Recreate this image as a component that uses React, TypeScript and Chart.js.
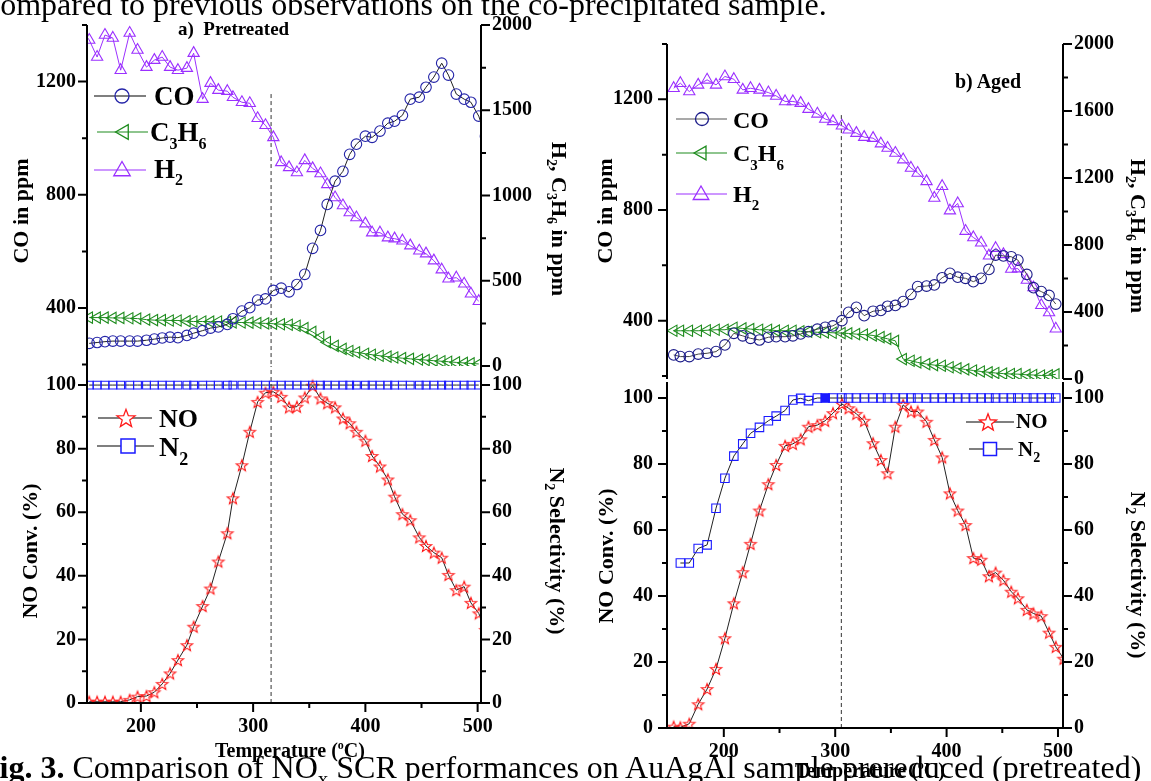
import React, { useEffect, useRef } from 'react';
import { Chart, registerables } from 'chart.js';

Chart.register(...registerables);

const FONT = '"Liberation Serif", "Times New Roman", Times, serif';

// ---------------- a) Pretreated (left panel) ----------------
const tempA = [147, 154, 161, 168, 175, 182, 190, 197, 205, 212, 219, 226, 233, 241, 247, 255, 262, 269, 277, 282, 290, 297, 304, 311, 318, 325, 332, 339, 346, 353, 360, 366, 373, 380, 386, 392, 400, 406, 413, 420, 426, 433, 440, 448, 454, 461, 468, 474, 481, 488, 494, 501, 507];
const coA = [null, 275, 278, 281, 283, 283, 283, 283, 286, 290, 294, 297, 295, 303, 311, 320, 329, 333, 342, 362, 389, 401, 428, 432, 462, 470, 457, 483, 519, 611, 674, 766, 848, 883, 943, 979, 1007, 1003, 1025, 1053, 1060, 1081, 1138, 1145, 1180, 1216, 1265, 1223, 1156, 1138, 1127, 1078, 1007];
const c3h6A = [null, 284, 284, 284, 282, 282, 280, 278, 272, 269, 269, 267, 267, 263, 261, 261, 260, 261, 258, 256, 255, 254, 252, 250, 248, 245, 242, 236, 222, 200, 170, 140, 118, 100, 88, 80, 72, 66, 60, 55, 50, 46, 42, 38, 35, 31, 28, 25, 21, 18, 15, 12, null];
const h2A = [1975, 1912, 1812, 1941, 1924, 1735, 1953, 1853, 1753, 1794, 1812, 1753, 1735, 1747, 1835, 1565, 1659, 1618, 1612, 1576, 1547, 1541, 1453, 1412, 1341, 1194, 1165, 1135, 1206, 1159, 1129, 1065, 988, 941, 900, 871, 835, 782, 782, 753, 747, 735, 706, 676, 659, 618, 565, 512, 518, 482, 424, 380, null];
const noA = [null, 0.4, 0.4, 0.4, 0.4, 0.4, 1, 2, 2.2, 3.4, 6, 9.3, 13.5, 18.2, 24, 30.5, 36, 44.5, 53.4, 64.4, 74.8, 85.3, 94.7, 97.6, 97.9, 96.3, 93, 93.2, 96.1, 99.8, 95.8, 94.3, 93, 89.5, 88, 85.3, 82.5, 77.7, 74.4, 70.3, 64.9, 59.4, 57.5, 52.1, 49.4, 47.3, 45.7, 40.3, 35.5, 36.6, 31.5, 28.2, 23];
const n2A = [null, 100, 100, 100, 100, 100, 100, 100, 100, 100, 100, 100, 100, 100, 100, 100, 100, 100, 100, 100, 100, 100, 100, 100, 100, 100, 100, 100, 100, 100, 100, 100, 100, 100, 100, 100, 100, 100, 100, 100, 100, 100, 100, 100, 100, 100, 100, 100, 100, 100, 100, 100, null];
const dashTempA = 316;
const dashTopA = 1156;

// ---------------- b) Aged (right panel) ----------------
const tempB = [155, 161, 169, 177, 185, 193, 201, 209, 217, 224, 232, 240, 247, 255, 262, 269, 276, 284, 291, 298, 306, 312, 319, 326, 334, 341, 347, 354, 361, 368, 374, 382, 389, 396, 403, 410, 417, 424, 431, 438, 444, 451, 458, 464, 472, 478, 485, 492, 498, 505];
const coB = [276, 270, 270, 279, 282, 288, 312, 354, 345, 336, 330, 340, 342, 342, 345, 352, 360, 369, 376, 381, 400, 430, 448, 418, 434, 437, 452, 455, 469, 495, 523, 525, 529, 555, 571, 557, 553, 541, 553, 585, 637, 634, 631, 619, 567, 519, 505, 491, 460, null];
const c3h6B = [288, 288, 288, 288, 291, 294, 294, 306, 302, 298, 294, 294, 289, 288, 288, 285, 282, 279, 278, 276, 274, 272, 268, 265, 260, 250, 240, 228, 119, 109, 99, 89, 83, 79, 70, 64, 57, 51, 45, 40, 36, 32, 30, 29, 25, 24, 21, 22, 28, null];
const h2B = [1736, 1766, 1716, 1756, 1786, 1756, 1806, 1790, 1726, 1736, 1726, 1710, 1690, 1657, 1657, 1647, 1611, 1583, 1552, 1538, 1512, 1488, 1468, 1444, 1438, 1405, 1379, 1349, 1310, 1260, 1230, 1180, 1081, 1151, 1005, 1048, 883, 845, 813, 736, 781, 744, 657, 659, 591, 546, 440, 397, 300, null];
const noB = [0.4, 0.2, 1.3, 7.2, 11.8, 17.9, 27.2, 37.8, 47.2, 55.8, 65.9, 73.9, 79.7, 85.5, 86.1, 87.5, 91.3, 91.8, 93.1, 95.4, 98.2, 96.9, 95.2, 93.1, 86.3, 81.2, 77.2, 91.3, 97.9, 95.9, 95.9, 92.8, 87.3, 82, 71.1, 65.9, 61.5, 51.5, 51, 46, 47.1, 44.8, 41.3, 39.3, 35.8, 34.7, 33.9, 28.9, 24.6, 21];
const n2B = [null, 50, 50, 54.4, 55.5, 66.6, 75.7, 82.4, 86.1, 89.3, 91.1, 93.1, 94.5, 96.2, 99.4, 99.9, 99.2, 100, 100, 100, 100, 100, 100, 100, 100, 100, 100, 100, 100, 100, 100, 100, 100, 100, 100, 100, 100, 100, 100, 100, 100, 100, 100, 100, 100, 100, 100, 100, 100, null];
const n2FilledIndexB = 18;
const dashTempB = 305.5;
const dashTopB = 1143;

// ---------------- axis ranges & ticks ----------------
const xRangeA = [152, 503];
const xRangeB = [149, 504.5];
const coRangeA = [195, 1400];
const coRangeB = [189, 1400];
const gasRange = [0, 2000];
const convRangeA = [0, 106];
const convRangeB = [0, 104.85];

const tempMajor = [200, 300, 400, 500];
const tempMinor = [250, 350, 450];
const coMajor = [400, 800, 1200];
const coMinor = [200, 600, 1000, 1400];
const gasMajorA = [0, 500, 1000, 1500, 2000];
const gasMinorA = [250, 750, 1250, 1750];
const gasMajorB = [0, 400, 800, 1200, 1600, 2000];
const gasMinorB = [200, 600, 1000, 1400, 1800];
const pctMajor = [0, 20, 40, 60, 80, 100];
const pctMinor = [10, 30, 50, 70, 90];

// ---------------- colours ----------------
const CO_A = '#2424a8';
const CO_B = '#1c1c8a';
const GREEN = '#1e8c1e';
const PURPLE = '#9b30ff';
const RED = '#ff1a1a';
const BLUE = '#1a1aff';

const MAJOR_LEN = 9;
const MINOR_LEN = 5;

type Edge = 'left' | 'right' | 'bottom';
interface AxisSpec {
  id: string;
  edge: Edge;
  min: number;
  max: number;
  size: number;
  major: number[];
  minor: number[];
  pad: number;
}

function scaleFor(a: AxisSpec) {
  return {
    type: 'linear',
    position: a.edge,
    min: a.min,
    max: a.max,
    afterFit: (s: any) => {
      if (a.edge === 'bottom') s.height = a.size;
      else s.width = a.size;
      s.paddingTop = 0;
      s.paddingBottom = 0;
      s.paddingLeft = 0;
      s.paddingRight = 0;
    },
    afterBuildTicks: (s: any) => {
      s.ticks = a.major.map((v) => ({ value: v }));
    },
    ticks: {
      autoSkip: false,
      maxRotation: 0,
      minRotation: 0,
      padding: a.pad,
      color: '#000',
      font: { family: FONT, size: 20, weight: 'bold' },
      callback: (v: any) => String(v),
    },
    grid: { display: false, drawTicks: true, tickLength: MAJOR_LEN },
    border: { display: false },
  };
}

function hiddenX(r: number[]) {
  return { type: 'linear', position: 'bottom', min: r[0], max: r[1], display: false };
}

function decorPlugin(axes: AxisSpec[]) {
  return {
    id: 'decor',
    afterDraw(chart: any) {
      const { ctx, chartArea: a } = chart;
      const hasBottom = axes.some((x) => x.edge === 'bottom');
      ctx.save();
      ctx.strokeStyle = '#000';
      ctx.lineWidth = 2;
      ctx.lineCap = 'butt';
      ctx.beginPath();
      for (const ax of axes) {
        const s = chart.scales[ax.id];
        if (ax.edge === 'bottom') {
          const y = a.bottom;
          ctx.moveTo(a.left - 1, y);
          ctx.lineTo(a.right + 1, y);
          ax.major.forEach((v) => {
            const x = s.getPixelForValue(v);
            ctx.moveTo(x, y);
            ctx.lineTo(x, y + MAJOR_LEN);
          });
          ax.minor.forEach((v) => {
            const x = s.getPixelForValue(v);
            ctx.moveTo(x, y);
            ctx.lineTo(x, y + MINOR_LEN);
          });
        } else {
          const x = ax.edge === 'left' ? a.left : a.right;
          const d = ax.edge === 'left' ? -1 : 1;
          ctx.moveTo(x, a.top);
          ctx.lineTo(x, a.bottom + (hasBottom ? 1 : 0));
          ax.major.forEach((v) => {
            const y = s.getPixelForValue(v);
            ctx.moveTo(x, y);
            ctx.lineTo(x + d * MAJOR_LEN, y);
          });
          ax.minor.forEach((v) => {
            const y = s.getPixelForValue(v);
            ctx.moveTo(x, y);
            ctx.lineTo(x + d * MINOR_LEN, y);
          });
        }
      }
      ctx.stroke();
      ctx.restore();
    },
  };
}

function pts(xs: number[], ys: (number | null)[]) {
  const out: any[] = [];
  xs.forEach((x, i) => {
    const y = ys[i];
    if (y !== null && y !== undefined) out.push({ x, y, i });
  });
  return out;
}

function starImage(R: number, color: string) {
  const size = Math.ceil(2 * R + 4);
  const c = document.createElement('canvas');
  c.width = size;
  c.height = size;
  const g = c.getContext('2d')!;
  g.translate(size / 2, size / 2 + R * 0.09);
  g.beginPath();
  for (let k = 0; k < 10; k++) {
    const rad = k % 2 === 0 ? R : R * 0.42;
    const ang = -Math.PI / 2 + (k * Math.PI) / 5;
    g.lineTo(rad * Math.cos(ang), rad * Math.sin(ang));
  }
  g.closePath();
  g.strokeStyle = color;
  g.lineWidth = 1.1;
  g.stroke();
  return c;
}

const common = {
  responsive: false,
  maintainAspectRatio: false,
  animation: false,
  devicePixelRatio: 1,
  events: [],
  plugins: { legend: { display: false }, tooltip: { enabled: false } },
};

const HOLLOW = 'rgba(0,0,0,0)';

function topConfig(side: 'A' | 'B') {
  const isA = side === 'A';
  const axes: AxisSpec[] = [
    { id: 'y', edge: 'left', min: (isA ? coRangeA : coRangeB)[0], max: (isA ? coRangeA : coRangeB)[1], size: isA ? 87 : 92, major: coMajor, minor: coMinor, pad: isA ? 2 : 5 },
    { id: 'y2', edge: 'right', min: gasRange[0], max: gasRange[1], size: isA ? 94 : 88, major: isA ? gasMajorA : gasMajorB, minor: isA ? gasMinorA : gasMinorB, pad: 2 },
  ];
  const t = isA ? tempA : tempB;
  const coMin = (isA ? coRangeA : coRangeB)[0];
  return {
    type: 'line',
    data: {
      datasets: [
        {
          data: pts(t, isA ? coA : coB),
          yAxisID: 'y',
          borderColor: isA ? '#222' : '#444',
          borderWidth: 1,
          pointStyle: 'circle',
          pointRadius: 5.3,
          pointBorderWidth: 1.1,
          pointBorderColor: isA ? CO_A : CO_B,
          pointBackgroundColor: HOLLOW,
        },
        {
          data: pts(t, isA ? h2A : h2B),
          yAxisID: 'y2',
          borderColor: PURPLE,
          borderWidth: 1,
          pointStyle: 'triangle',
          pointRadius: 6.5,
          pointBorderWidth: 1.1,
          pointBorderColor: PURPLE,
          pointBackgroundColor: HOLLOW,
        },
        {
          data: pts(t, isA ? c3h6A : c3h6B),
          yAxisID: 'y2',
          borderColor: GREEN,
          borderWidth: 1,
          pointStyle: 'triangle',
          pointRotation: -90,
          pointRadius: 6.5,
          pointBorderWidth: 1.1,
          pointBorderColor: GREEN,
          pointBackgroundColor: HOLLOW,
        },
        {
          data: [
            { x: isA ? dashTempA : dashTempB, y: isA ? dashTopA : dashTopB },
            { x: isA ? dashTempA : dashTempB, y: coMin },
          ],
          yAxisID: 'y',
          borderColor: '#333',
          borderWidth: 1,
          borderDash: [4, 3],
          pointRadius: 0,
        },
      ],
    },
    options: {
      ...common,
      layout: { autoPadding: false, padding: { top: isA ? 25 : 44, left: 0, right: 0, bottom: isA ? 19 : 16 } },
      scales: { x: hiddenX(isA ? xRangeA : xRangeB), y: scaleFor(axes[0]), y2: scaleFor(axes[1]) },
    },
    plugins: [decorPlugin(axes)],
  };
}

function bottomConfig(side: 'A' | 'B') {
  const isA = side === 'A';
  const pr = isA ? convRangeA : convRangeB;
  const xr = isA ? xRangeA : xRangeB;
  const axes: AxisSpec[] = [
    { id: 'y', edge: 'left', min: pr[0], max: pr[1], size: isA ? 87 : 92, major: pctMajor, minor: pctMinor, pad: isA ? 2 : 5 },
    { id: 'y2', edge: 'right', min: pr[0], max: pr[1], size: isA ? 94 : 88, major: pctMajor, minor: pctMinor, pad: 2 },
    { id: 'x', edge: 'bottom', min: xr[0], max: xr[1], size: isA ? 63 : 53, major: tempMajor, minor: tempMinor, pad: 3 },
  ];
  const t = isA ? tempA : tempB;
  const star = starImage(6, RED);
  return {
    type: 'line',
    data: {
      datasets: [
        {
          data: pts(t, isA ? n2A : n2B),
          yAxisID: 'y2',
          borderColor: '#222',
          borderWidth: 1,
          pointStyle: 'rect',
          pointRadius: isA ? 5.5 : 6,
          pointBorderWidth: 1.1,
          pointBorderColor: BLUE,
          pointBackgroundColor: (c: any) => (!isA && c.raw && c.raw.i === n2FilledIndexB ? BLUE : HOLLOW),
        },
        {
          data: pts(t, isA ? noA : noB),
          yAxisID: 'y',
          borderColor: '#222',
          borderWidth: 1,
          pointStyle: star,
          pointRadius: 6,
        },
        {
          data: [
            { x: isA ? dashTempA : dashTempB, y: pr[0] },
            { x: isA ? dashTempA : dashTempB, y: pr[1] },
          ],
          yAxisID: 'y',
          borderColor: '#333',
          borderWidth: 1,
          borderDash: [4, 3],
          pointRadius: 0,
        },
      ],
    },
    options: {
      ...common,
      layout: { autoPadding: false, padding: { top: 0, left: 0, right: 0, bottom: 0 } },
      scales: { x: scaleFor(axes[2]), y: scaleFor(axes[0]), y2: scaleFor(axes[1]) },
    },
    plugins: [decorPlugin(axes)],
  };
}

function ChartBox(props: { left: number; top: number; width: number; height: number; build: () => any }) {
  const ref = useRef<HTMLCanvasElement>(null);
  useEffect(() => {
    const chart = new Chart(ref.current as HTMLCanvasElement, props.build());
    return () => chart.destroy();
  }, []);
  return (
    <canvas
      ref={ref}
      width={props.width}
      height={props.height}
      style={{ position: 'absolute', left: props.left, top: props.top, width: props.width, height: props.height }}
    />
  );
}

// ---------------- SVG overlay helpers ----------------
function triPts(cx: number, cy: number, R: number, rotDeg: number) {
  const out: string[] = [];
  const r0 = (rotDeg * Math.PI) / 180;
  for (let k = 0; k < 3; k++) {
    const a = r0 + (k * 2 * Math.PI) / 3;
    out.push(`${cx + Math.sin(a) * R},${cy - Math.cos(a) * R}`);
  }
  return out.join(' ');
}
function starPts(cx: number, cy: number, R: number) {
  const out: string[] = [];
  for (let k = 0; k < 10; k++) {
    const rad = k % 2 === 0 ? R : R * 0.42;
    const ang = -Math.PI / 2 + (k * Math.PI) / 5;
    out.push(`${cx + rad * Math.cos(ang)},${cy + R * 0.09 + rad * Math.sin(ang)}`);
  }
  return out.join(' ');
}

function VTitle(props: { cx: number; cy: number; rot: number; fs?: number; children: any }) {
  const fs = props.fs || 22;
  return (
    <text
      transform={`translate(${props.cx},${props.cy}) rotate(${props.rot})`}
      x={0}
      y={fs * 0.33}
      textAnchor="middle"
      fontSize={fs}
      fontWeight="bold"
      style={{ whiteSpace: 'pre' }}
    >
      {props.children}
    </text>
  );
}

function GasTitle() {
  return (
    <>
      H<tspan fontSize={14} dy={5}>2</tspan>
      <tspan dy={-5}>{', C'}</tspan>
      <tspan fontSize={14} dy={5}>3</tspan>
      <tspan dy={-5}>H</tspan>
      <tspan fontSize={14} dy={5}>6</tspan>
      <tspan dy={-5}>{' in ppm'}</tspan>
    </>
  );
}
function SelTitle() {
  return (
    <>
      N<tspan fontSize={14} dy={5}>2</tspan>
      <tspan dy={-5}>{' Selectivity (%)'}</tspan>
    </>
  );
}
function TempTitle(props: { cx: number; y: number }) {
  return (
    <text x={props.cx} y={props.y} textAnchor="middle" fontSize={20} fontWeight="bold" style={{ whiteSpace: 'pre' }}>
      {'Temperature ('}
      <tspan fontSize={12} dy={-8}>o</tspan>
      <tspan dy={8}>{'C)'}</tspan>
    </text>
  );
}

function Overlay() {
  return (
    <svg
      width={1151}
      height={781}
      style={{ position: 'absolute', left: 0, top: 0, fontFamily: FONT, pointerEvents: 'none' }}
    >
      {/* captions */}
      <text x={-14} y={15} fontSize={32} style={{ whiteSpace: 'pre' }}>
        compared to previous observations on the co-precipitated sample.
      </text>
      <text x={-20} y={778} fontSize={32} style={{ whiteSpace: 'pre' }}>
        <tspan fontWeight="bold">{'Fig. 3.'}</tspan>
        <tspan>{' Comparison of NO'}</tspan>
        <tspan fontSize={21} dy={8}>x</tspan>
        <tspan dy={-8}>{' SCR performances on AuAgAl sample prereduced (pretreated)'}</tspan>
      </text>

      {/* panel labels */}
      <text x={178} y={35} fontSize={19} fontWeight="bold" style={{ whiteSpace: 'pre' }}>a)  Pretreated</text>
      <text x={955} y={88} fontSize={20} fontWeight="bold" style={{ whiteSpace: 'pre' }}>b) Aged</text>

      {/* axis titles left panel */}
      <VTitle cx={21} cy={211} rot={-90}>CO in ppm</VTitle>
      <VTitle cx={30} cy={551} rot={-90}>NO Conv. (%)</VTitle>
      <VTitle cx={559} cy={219} rot={90}><GasTitle /></VTitle>
      <VTitle cx={557} cy={551} rot={90}><SelTitle /></VTitle>
      <TempTitle cx={290} y={757} />

      {/* axis titles right panel */}
      <VTitle cx={605} cy={211} rot={-90}>CO in ppm</VTitle>
      <VTitle cx={606} cy={556} rot={-90}>NO Conv. (%)</VTitle>
      <VTitle cx={1138} cy={236} rot={90}><GasTitle /></VTitle>
      <VTitle cx={1138} cy={575} rot={90}><SelTitle /></VTitle>
      <TempTitle cx={870} y={777} />

      {/* legend: left top */}
      <line x1={94} y1={96} x2={146} y2={96} stroke="#000" strokeWidth={1.2} />
      <circle cx={122} cy={96} r={7} fill="none" stroke={CO_A} strokeWidth={1.3} />
      <text x={154} y={105} fontSize={27} fontWeight="bold">CO</text>
      <line x1={97} y1={132} x2={148} y2={132} stroke={GREEN} strokeWidth={1.2} />
      <polygon points={triPts(124, 132, 8.5, -90)} fill="none" stroke={GREEN} strokeWidth={1.3} />
      <text x={150} y={141} fontSize={27} fontWeight="bold">
        C<tspan fontSize={16} dy={8}>3</tspan>
        <tspan dy={-8}>H</tspan>
        <tspan fontSize={16} dy={8}>6</tspan>
      </text>
      <line x1={94} y1={170} x2={146} y2={170} stroke={PURPLE} strokeWidth={1.2} />
      <polygon points={triPts(122, 171, 9.5, 0)} fill="none" stroke={PURPLE} strokeWidth={1.3} />
      <text x={154} y={178} fontSize={27} fontWeight="bold">
        H<tspan fontSize={16} dy={7}>2</tspan>
      </text>

      {/* legend: left bottom */}
      <line x1={98} y1={418} x2={152} y2={418} stroke="#000" strokeWidth={1.2} />
      <polygon points={starPts(126, 418, 9.5)} fill="#fff" stroke={RED} strokeWidth={1.3} />
      <text x={159} y={427} fontSize={26} fontWeight="bold">NO</text>
      <line x1={97} y1={446} x2={154} y2={446} stroke="#000" strokeWidth={1.2} />
      <rect x={121} y={439} width={14} height={14} fill="#fff" stroke={BLUE} strokeWidth={1.5} />
      <text x={159} y={456} fontSize={28} fontWeight="bold">
        N<tspan fontSize={18} dy={9}>2</tspan>
      </text>

      {/* legend: right top */}
      <line x1={676} y1={119} x2={727} y2={119} stroke="#555" strokeWidth={1.2} />
      <circle cx={702} cy={119} r={6.5} fill="none" stroke={CO_B} strokeWidth={1.3} />
      <text x={733} y={128} fontSize={24} fontWeight="bold">CO</text>
      <line x1={676} y1={153} x2={727} y2={153} stroke={GREEN} strokeWidth={1.2} />
      <polygon points={triPts(702, 153, 8, -90)} fill="none" stroke={GREEN} strokeWidth={1.3} />
      <text x={733} y={161} fontSize={24} fontWeight="bold">
        C<tspan fontSize={15} dy={9}>3</tspan>
        <tspan dy={-9}>H</tspan>
        <tspan fontSize={15} dy={9}>6</tspan>
      </text>
      <line x1={676} y1={194} x2={727} y2={194} stroke={PURPLE} strokeWidth={1.2} />
      <polygon points={triPts(701, 195, 9, 0)} fill="none" stroke={PURPLE} strokeWidth={1.3} />
      <text x={733} y={202} fontSize={24} fontWeight="bold">
        H<tspan fontSize={15} dy={8}>2</tspan>
      </text>

      {/* legend: right bottom */}
      <line x1={966} y1={422} x2={1014} y2={422} stroke="#000" strokeWidth={1.2} />
      <polygon points={starPts(988, 422, 9)} fill="#fff" stroke={RED} strokeWidth={1.3} />
      <text x={1016} y={428} fontSize={21} fontWeight="bold">NO</text>
      <line x1={969} y1={449} x2={1013} y2={449} stroke="#000" strokeWidth={1.2} />
      <rect x={983.5} y={442.5} width={13} height={13} fill="#fff" stroke={BLUE} strokeWidth={1.5} />
      <text x={1018} y={456} fontSize={21} fontWeight="bold">
        N<tspan fontSize={14} dy={6}>2</tspan>
      </text>
    </svg>
  );
}

export default function App() {
  return (
    <div
      style={{
        position: 'absolute',
        left: 0,
        top: 0,
        width: 1151,
        height: 781,
        overflow: 'hidden',
        background: '#fff',
        fontFamily: FONT,
      }}
    >
      <ChartBox left={0} top={0} width={575} height={385} build={() => topConfig('A')} />
      <ChartBox left={0} top={366} width={575} height={400} build={() => bottomConfig('A')} />
      <ChartBox left={575} top={0} width={576} height={395} build={() => topConfig('B')} />
      <ChartBox left={575} top={382} width={576} height={399} build={() => bottomConfig('B')} />
      <Overlay />
    </div>
  );
}
